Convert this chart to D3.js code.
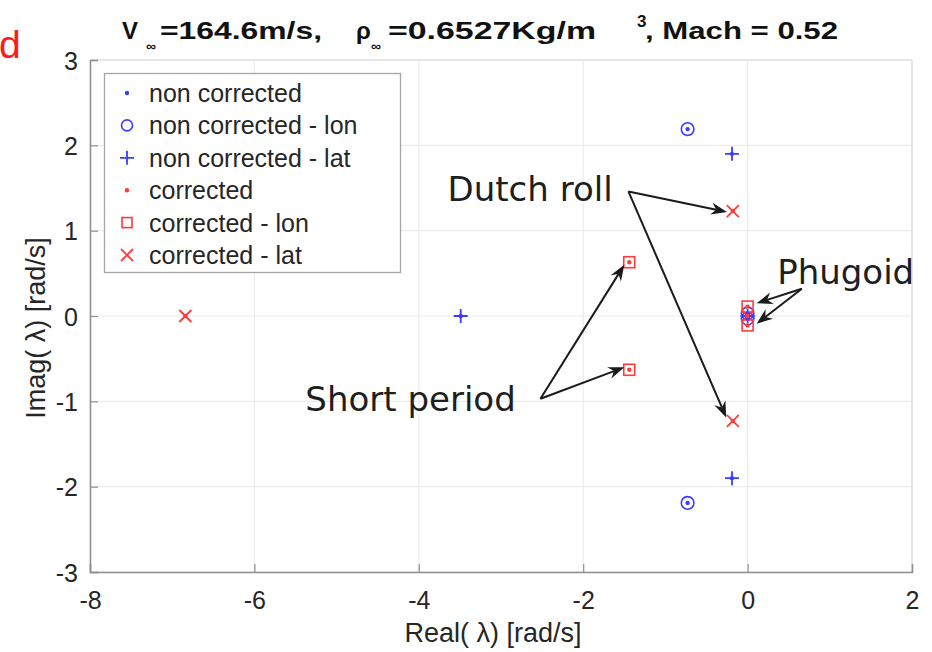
<!DOCTYPE html>
<html>
<head>
<meta charset="utf-8">
<script src="https://cdn.jsdelivr.net/npm/d3@7"></script>
<style>
  html, body { margin: 0; padding: 0; background: #fff; }
  svg { display: block; }
</style>
</head>
<body>
<svg id="chart" width="932" height="652"></svg>
<script>
// Eigenvalues (real, imag) of the aircraft dynamics, before and after correction
const nonCorrectedLon = [[-0.73, 2.19], [-0.73, -2.19], [0.0, 0.03], [0.0, -0.03]];
const nonCorrectedLat = [[-0.19, 1.90], [-0.19, -1.90], [-3.49, 0.0], [0.0, 0.0]];
const correctedLon    = [[-1.44, 0.63], [-1.44, -0.63], [0.0, 0.11], [0.0, -0.11]];
const correctedLat    = [[-0.18, 1.23], [-0.18, -1.23], [-6.84, 0.0], [0.0, 0.0]];

const xTicks = [-8, -6, -4, -2, 0, 2];
const yTicks = [-3, -2, -1, 0, 1, 2, 3];

const legendLabels = [
  "non corrected",
  "non corrected - lon",
  "non corrected - lat",
  "corrected",
  "corrected - lon",
  "corrected - lat"
];

// Mode annotations: label anchor and arrow heads, in data units
const modeNotes = [
  { label: "Dutch roll",   text: [-3.65, 1.35], tail: [-1.45, 1.46], heads: [[-0.25, 1.22], [-0.26, -1.19]] },
  { label: "Short period", text: [-5.38, -1.11], tail: [-2.52, -0.97], heads: [[-1.50, 0.60], [-1.50, -0.60]] },
  { label: "Phugoid",      text: [0.36, 0.37],  tail: [0.66, 0.32],  heads: [[0.11, 0.15], [0.11, -0.09]] }
];

const blue = "#3c3cff";
const red = "#ff3c3c";
const axisGrey = "#8f8f8f";
const textGrey = "#262626";

const svg = d3.select("#chart");
const margin = { left: 90, right: 20, top: 60, bottom: 80 };
const W = 932, H = 652;
const x = d3.scaleLinear().domain([-8, 2]).range([margin.left, W - margin.right]);
const y = d3.scaleLinear().domain([-3, 3]).range([H - margin.bottom, margin.top]);

// grid
const grid = svg.append("g");
grid.selectAll(".gx").data(xTicks).join("line")
  .attr("x1", d => x(d)).attr("x2", d => x(d))
  .attr("y1", y(-3)).attr("y2", y(3))
  .attr("stroke", "#ebebeb").attr("stroke-width", 1.2);
grid.selectAll(".gy").data(yTicks).join("line")
  .attr("x1", x(-8)).attr("x2", x(2))
  .attr("y1", d => y(d)).attr("y2", d => y(d))
  .attr("stroke", "#ebebeb").attr("stroke-width", 1.2);

// box (top and right edges faint)
svg.append("line").attr("x1", x(-8)).attr("x2", x(2)).attr("y1", y(3)).attr("y2", y(3))
  .attr("stroke", "#e2e2e2").attr("stroke-width", 1.5);
svg.append("line").attr("x1", x(2)).attr("x2", x(2)).attr("y1", y(3)).attr("y2", y(-3))
  .attr("stroke", "#e2e2e2").attr("stroke-width", 1.5);

// axes (plain hyphen for negative tick labels)
const plain = d => String(d);
const xAxis = d3.axisBottom(x).tickValues(xTicks).tickSize(-8).tickPadding(14).tickFormat(plain);
const yAxis = d3.axisLeft(y).tickValues(yTicks).tickSize(-8).tickPadding(12).tickFormat(plain);

const gx = svg.append("g").attr("transform", `translate(0,${y(-3)})`).call(xAxis);
const gy = svg.append("g").attr("transform", `translate(${x(-8)},0)`).call(yAxis);
[gx, gy].forEach(g => {
  g.select(".domain").attr("stroke", axisGrey).attr("stroke-width", 1.5);
  g.selectAll(".tick line").attr("stroke", axisGrey).attr("stroke-width", 1.2);
  g.selectAll(".tick text")
    .attr("fill", textGrey)
    .style("font-family", "'Liberation Sans', Arial, sans-serif")
    .style("font-size", "25px");
});
gx.selectAll(".tick text").attr("dy", "0.9em");
gy.selectAll(".tick text").attr("dy", "0.36em");

// axis labels
svg.append("text")
  .attr("x", (x(-8) + x(2)) / 2 - 8).attr("y", 642)
  .attr("text-anchor", "middle").attr("fill", textGrey)
  .style("font-family", "'Liberation Sans', Arial, sans-serif").style("font-size", "27px")
  .text("Real( λ) [rad/s]");
svg.append("text")
  .attr("transform", `translate(45,${y(0) + 12}) rotate(-90)`)
  .attr("text-anchor", "middle").attr("fill", textGrey)
  .style("font-family", "'Liberation Sans', Arial, sans-serif").style("font-size", "27px")
  .text("Imag( λ) [rad/s]");

// title
const title = svg.append("g")
  .style("font-family", "'Liberation Sans', Arial, sans-serif")
  .style("font-weight", "bold").attr("fill", "#111");
const titleParts = [
  { t: "V", x: 122, y: 39, s: 24 },
  { t: "∞", x: 146, y: 51, s: 14 },
  { t: "=164.6m/s,", x: 160, y: 39, s: 24, w: 162 },
  { t: "ρ", x: 356, y: 39, s: 24 },
  { t: "∞", x: 371, y: 51, s: 14 },
  { t: "=0.6527Kg/m", x: 388, y: 39, s: 24, w: 208 },
  { t: "3", x: 637, y: 27, s: 17 },
  { t: ", Mach = 0.52", x: 645, y: 39, s: 24, w: 193 }
];
titleParts.forEach(p => {
  const el = title.append("text").attr("x", p.x).attr("y", p.y)
    .style("font-size", p.s + "px").text(p.t);
  if (p.w) el.attr("textLength", p.w).attr("lengthAdjust", "spacingAndGlyphs");
});

// panel letter at the left edge
svg.append("text").attr("x", -1).attr("y", 58)
  .attr("fill", "#ff1a1a")
  .style("font-family", "'Liberation Sans', Arial, sans-serif").style("font-size", "39px")
  .text("d");

// marker drawing helpers
function drawMarker(g, kind, cx, cy, color) {
  if (kind === "dot") {
    g.append("circle").attr("cx", cx).attr("cy", cy).attr("r", 2.2).attr("fill", color);
  } else if (kind === "circle") {
    g.append("circle").attr("cx", cx).attr("cy", cy).attr("r", 6.3)
      .attr("fill", "none").attr("stroke", color).attr("stroke-width", 1.6);
  } else if (kind === "plus") {
    g.append("path").attr("d", `M${cx - 7},${cy}H${cx + 7}M${cx},${cy - 7}V${cy + 7}`)
      .attr("stroke", color).attr("stroke-width", 1.8).attr("fill", "none");
  } else if (kind === "square") {
    g.append("rect").attr("x", cx - 5.5).attr("y", cy - 5.5).attr("width", 11).attr("height", 11)
      .attr("fill", "none").attr("stroke", color).attr("stroke-width", 1.6);
  } else if (kind === "cross") {
    g.append("path").attr("d", `M${cx - 6},${cy - 6}L${cx + 6},${cy + 6}M${cx - 6},${cy + 6}L${cx + 6},${cy - 6}`)
      .attr("stroke", color).attr("stroke-width", 1.8).attr("fill", "none");
  }
}

const marks = svg.append("g");
const seriesList = [
  { data: nonCorrectedLon, kind: "circle", color: blue },
  { data: nonCorrectedLat, kind: "plus", color: blue },
  { data: correctedLon, kind: "square", color: red },
  { data: correctedLat, kind: "cross", color: red }
];
seriesList.forEach(s => s.data.forEach(([re, im]) => drawMarker(marks, s.kind, x(re), y(im), s.color)));
// every eigenvalue also carries a dot of its set
nonCorrectedLon.concat(nonCorrectedLat).forEach(([re, im]) => drawMarker(marks, "dot", x(re), y(im), blue));
correctedLon.concat(correctedLat).forEach(([re, im]) => drawMarker(marks, "dot", x(re), y(im), red));

// annotations with arrows
const notes = svg.append("g");
function arrow(x0, y0, x1, y1) {
  const ang = Math.atan2(y1 - y0, x1 - x0);
  const len = 16, half = 6, back = 11;
  const bx = x1 - len * Math.cos(ang), by = y1 - len * Math.sin(ang);
  const nx = -Math.sin(ang), ny = Math.cos(ang);
  const mx = x1 - back * Math.cos(ang), my = y1 - back * Math.sin(ang);
  notes.append("line").attr("x1", x0).attr("y1", y0).attr("x2", mx).attr("y2", my)
    .attr("stroke", "#1a1a1a").attr("stroke-width", 2);
  notes.append("path")
    .attr("d", `M${x1},${y1}L${bx + nx * half},${by + ny * half}L${mx},${my}L${bx - nx * half},${by - ny * half}Z`)
    .attr("fill", "#1a1a1a");
}
modeNotes.forEach(n => {
  notes.append("text").attr("x", x(n.text[0])).attr("y", y(n.text[1]))
    .attr("fill", "#1e1e1e")
    .style("font-family", "'DejaVu Sans', sans-serif").style("font-size", "34px")
    .text(n.label);
  n.heads.forEach(h => arrow(x(n.tail[0]), y(n.tail[1]), x(h[0]), y(h[1])));
});

// legend
const lg = svg.append("g");
lg.append("rect").attr("x", 104.5).attr("y", 73.5).attr("width", 296).attr("height", 199)
  .attr("fill", "#fff").attr("stroke", "#a6a6a6").attr("stroke-width", 1.3);
const legendKinds = [["dot", blue], ["circle", blue], ["plus", blue], ["dot", red], ["square", red], ["cross", red]];
legendLabels.forEach((lab, i) => {
  const cy = 93 + i * 32.4;
  const [kind, color] = legendKinds[i];
  if (kind === "circle") {
    lg.append("circle").attr("cx", 127).attr("cy", cy).attr("r", 5.5)
      .attr("fill", "none").attr("stroke", color).attr("stroke-width", 1.6);
  } else if (kind === "square") {
    lg.append("rect").attr("x", 122).attr("y", cy - 5).attr("width", 10).attr("height", 10)
      .attr("fill", "none").attr("stroke", color).attr("stroke-width", 1.6);
  } else {
    drawMarker(lg, kind, 127, cy, color);
  }
  lg.append("text").attr("x", 149).attr("y", cy + 9)
    .attr("fill", textGrey)
    .style("font-family", "'Liberation Sans', Arial, sans-serif").style("font-size", "25px")
    .text(lab);
});
</script>
</body>
</html>
